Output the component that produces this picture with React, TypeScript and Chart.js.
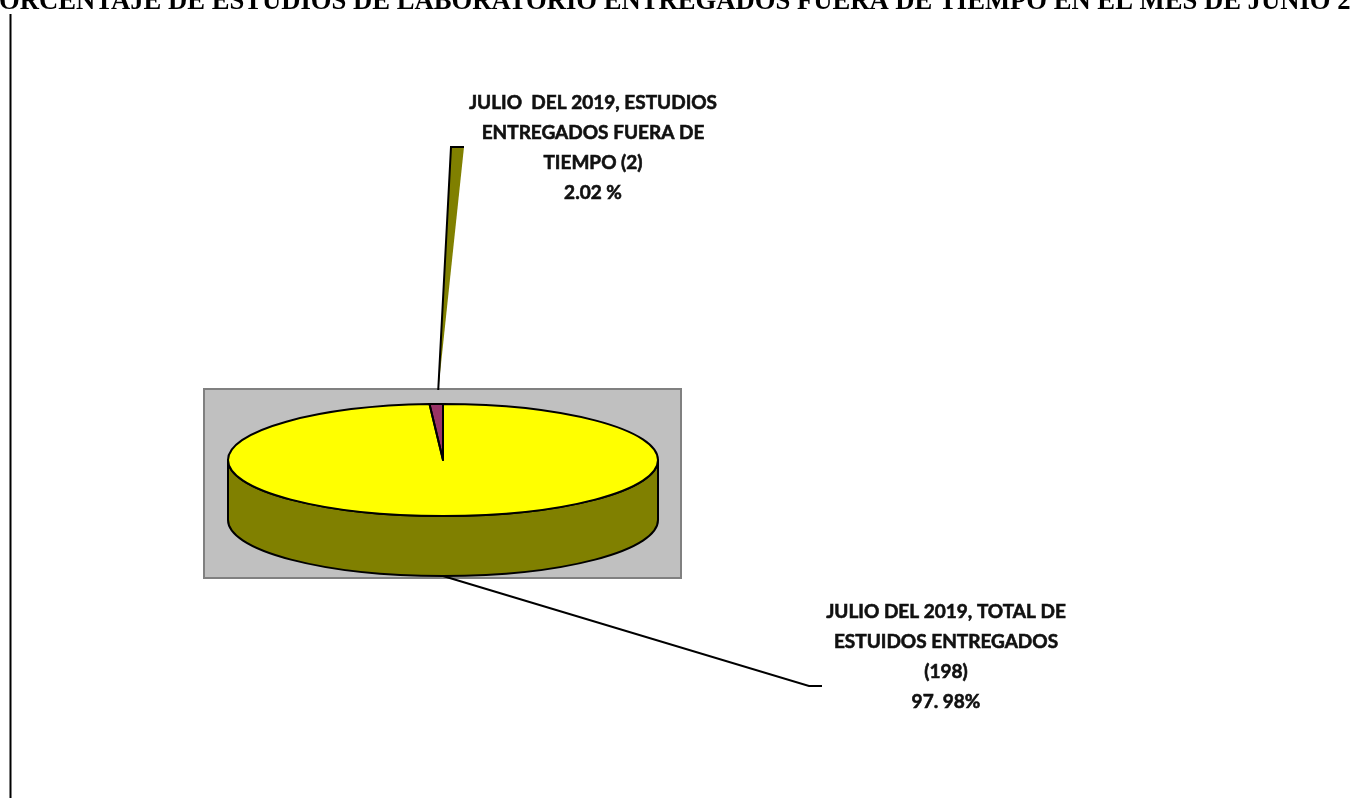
import React, { useEffect, useRef } from "react";
import { Chart, registerables } from "chart.js";

Chart.register(...registerables);

const titleText =
  "PORCENTAJE DE ESTUDIOS DE LABORATORIO ENTREGADOS FUERA DE TIEMPO EN EL MES DE JUNIO 2019";
const categories = [
  "JULIO DEL 2019, TOTAL DE ESTUIDOS ENTREGADOS",
  "JULIO DEL 2019, ESTUDIOS ENTREGADOS FUERA DE TIEMPO",
];
const seriesValues = [198, 2];
const labelLines = [
  ["JULIO DEL 2019, TOTAL DE", "ESTUIDOS ENTREGADOS", "(198)", "97. 98%"],
  ["JULIO  DEL 2019, ESTUDIOS", "ENTREGADOS FUERA DE", "TIEMPO (2)", "2.02 %"],
];
const topColors = ["#FFFF00", "#993366"];
const sideColors = ["#808000", "#66223f"];

export default function App() {
  const ref = useRef<HTMLCanvasElement>(null);

  useEffect(() => {
    const canvas = ref.current!;
    const CY = 460; // screen centre of the top face
    const SY = 56 / 215; // vertical squash of the tilted pie
    const DEPTH = 60;

    const geom = (chart: any) => {
      const arcs = chart.getDatasetMeta(0).data;
      const p = arcs[0].getProps(["x", "y", "outerRadius"], true);
      return { arcs, x: p.x as number, y: p.y as number, R: p.outerRadius as number };
    };

    const plugin = {
      id: "pie3d",
      beforeDraw(chart: any) {
        const ctx = chart.ctx as CanvasRenderingContext2D;
        ctx.save();
        ctx.fillStyle = "#ffffff";
        ctx.fillRect(0, 0, chart.width, chart.height);
        // title (wider than the page, clipped at both ends)
        ctx.font = 'bold 24px "Liberation Serif"';
        const vis = ctx.measureText(titleText.slice(1, -3)).width;
        const size = (24 * 1352) / vis;
        ctx.font = `bold ${size}px "Liberation Serif"`;
        const pW = ctx.measureText("P").width;
        ctx.fillStyle = "#000";
        ctx.textAlign = "left";
        ctx.textBaseline = "alphabetic";
        ctx.fillText(titleText, -pW - 1, 9);
        // left frame line
        ctx.strokeStyle = "#000";
        ctx.lineWidth = 2;
        ctx.beginPath();
        ctx.moveTo(10.5, 14);
        ctx.lineTo(10.5, 798);
        ctx.stroke();
        // plot area
        const { x, R } = geom(chart);
        const left = x - R - 24;
        const right = x + R + 23;
        const top = CY - 71;
        const bottom = CY + 118;
        ctx.fillStyle = "#C0C0C0";
        ctx.fillRect(left, top, right - left, bottom - top);
        ctx.strokeStyle = "#808080";
        ctx.lineWidth = 2;
        ctx.strokeRect(left, top, right - left, bottom - top);
        ctx.restore();
      },
      beforeDatasetsDraw(chart: any) {
        const ctx = chart.ctx as CanvasRenderingContext2D;
        const { arcs, x, y, R } = geom(chart);
        const ry = R * SY;
        arcs.forEach((arc: any, i: number) => {
          const { startAngle, endAngle } = arc.getProps(["startAngle", "endAngle"], true);
          for (let k = -1; k <= 1; k++) {
            const lo = Math.max(startAngle, 2 * Math.PI * k);
            const hi = Math.min(endAngle, Math.PI + 2 * Math.PI * k);
            if (hi > lo) {
              ctx.save();
              ctx.beginPath();
              ctx.ellipse(x, CY, R, ry, 0, lo, hi);
              ctx.ellipse(x, CY + DEPTH, R, ry, 0, hi, lo, true);
              ctx.closePath();
              ctx.fillStyle = sideColors[i];
              ctx.fill();
              ctx.strokeStyle = "#000";
              ctx.lineWidth = 2;
              ctx.lineJoin = "round";
              ctx.stroke();
              ctx.restore();
            }
          }
        });
        ctx.save();
        ctx.translate(x, CY);
        ctx.scale(1, SY);
        ctx.translate(-x, -y);
      },
      afterDatasetsDraw(chart: any) {
        const ctx = chart.ctx as CanvasRenderingContext2D;
        ctx.restore();
        const { arcs, x, y, R } = geom(chart);
        arcs.forEach((arc: any) => {
          const { startAngle, endAngle } = arc.getProps(["startAngle", "endAngle"], true);
          ctx.save();
          ctx.translate(x, CY);
          ctx.scale(1, SY);
          ctx.translate(-x, -y);
          ctx.beginPath();
          ctx.moveTo(x, y);
          ctx.arc(x, y, R, startAngle, endAngle);
          ctx.closePath();
          ctx.restore();
          ctx.save();
          ctx.strokeStyle = "#000";
          ctx.lineWidth = 2;
          ctx.lineJoin = "round";
          ctx.stroke();
          ctx.restore();
        });
      },
      afterDraw(chart: any) {
        const ctx = chart.ctx as CanvasRenderingContext2D;
        const { arcs, x, R } = geom(chart);
        const ry = R * SY;
        ctx.save();
        // leader for the small slice
        const s = arcs[1].getProps(["startAngle", "endAngle"], true);
        const mid = (s.startAngle + s.endAngle) / 2;
        const ax = x + R * Math.cos(mid) + 2;
        const ay = CY + ry * Math.sin(mid) - 14;
        ctx.beginPath();
        ctx.moveTo(ax, ay);
        ctx.lineTo(451, 147);
        ctx.lineTo(464, 147);
        ctx.closePath();
        ctx.fillStyle = "#808000";
        ctx.fill();
        ctx.beginPath();
        ctx.moveTo(ax, ay);
        ctx.lineTo(451, 147);
        ctx.lineTo(464, 147);
        ctx.strokeStyle = "#000";
        ctx.lineWidth = 2;
        ctx.stroke();
        // leader for the large slice
        ctx.beginPath();
        ctx.moveTo(x, CY + ry + DEPTH);
        ctx.lineTo(809, 686);
        ctx.lineTo(822, 686);
        ctx.stroke();
        // labels
        ctx.font = 'bold 19px "Lato"';
        ctx.fillStyle = "#111";
        ctx.strokeStyle = "#111";
        ctx.lineWidth = 0.6;
        ctx.textAlign = "center";
        ctx.textBaseline = "middle";
        const pos = [
          { cx: 946, cy: 612 },
          { cx: 593, cy: 103 },
        ];
        labelLines.forEach((lines, i) => {
          lines.forEach((t, j) => {
            ctx.fillText(t, pos[i].cx, pos[i].cy + j * 30);
            ctx.strokeText(t, pos[i].cx, pos[i].cy + j * 30);
          });
        });
        ctx.restore();
      },
    };

    const chart = new Chart(canvas, {
      type: "pie",
      data: {
        labels: categories,
        datasets: [
          {
            data: seriesValues,
            backgroundColor: topColors,
            borderWidth: 0,
            clip: false as any,
          },
        ],
      },
      options: {
        responsive: false,
        animation: false,
        events: [],
        layout: { padding: { left: 228, right: 692, top: 245, bottom: 123 } },
        plugins: {
          legend: { display: false },
          tooltip: { enabled: false },
          title: { display: false },
        },
      },
      plugins: [plugin],
    });
    return () => chart.destroy();
  }, []);

  return (
    <div style={{ position: "fixed", left: 0, top: 0, width: 1350, height: 798 }}>
      <canvas ref={ref} width={1350} height={798} style={{ display: "block" }} />
    </div>
  );
}
